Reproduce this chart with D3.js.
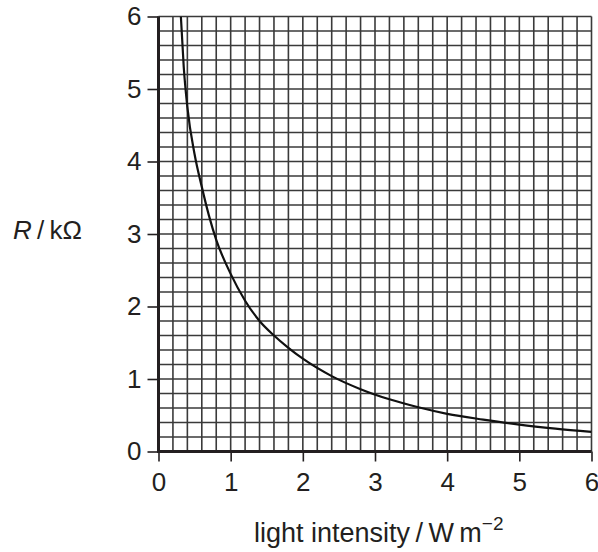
<!DOCTYPE html>
<html><head><meta charset="utf-8">
<script src="https://cdn.jsdelivr.net/npm/d3@7/dist/d3.min.js"></script>
<style>
body{margin:0;background:#fff;}
text{font-family:"Liberation Sans",Arial,sans-serif;fill:#231f20;}
</style></head>
<body>
<svg id="c" width="598" height="552"></svg>
<script>
const intensity = [0.31,0.35,0.4,0.5,0.6,0.7,0.8,1.0,1.2,1.4,1.6,1.8,2.0,2.4,2.8,3.2,3.6,4.0,4.5,5.0,5.5,6.0];
const resistance = [6.0,5.3,4.75,4.1,3.65,3.25,2.92,2.45,2.08,1.8,1.6,1.43,1.28,1.04,0.86,0.72,0.61,0.52,0.44,0.37,0.315,0.27];
const xTicks = [0,1,2,3,4,5,6];
const yTicks = [0,1,2,3,4,5,6];
const xLabel = "light intensity\u2009/\u2009W\u2009m";
const xLabelSup = "−2";

const svg = d3.select("#c");
const x = d3.scaleLinear().domain([0,6]).range([158.5,591.5]);
const y = d3.scaleLinear().domain([0,6]).range([451.5,16.5]);
const minor = d3.range(0,6.0001,0.2);

const g = svg.append("g");
g.selectAll(".vg").data(minor).join("line")
  .attr("x1",d=>x(d)).attr("x2",d=>x(d)).attr("y1",y(0)).attr("y2",y(6))
  .attr("stroke","#3a3a3a").attr("stroke-width",1.6);
g.selectAll(".hg").data(minor).join("line")
  .attr("y1",d=>y(d)).attr("y2",d=>y(d)).attr("x1",x(0)).attr("x2",x(6))
  .attr("stroke","#3a3a3a").attr("stroke-width",1.6);

// axes
const xAxis = d3.axisBottom(x).tickValues(xTicks).tickSize(10).tickPadding(6).tickFormat(d3.format("d"));
const yAxis = d3.axisLeft(y).tickValues(yTicks).tickSize(11).tickPadding(6).tickFormat(d3.format("d"));
const gx = svg.append("g").attr("transform",`translate(0,${y(0)})`).call(xAxis);
const gy = svg.append("g").attr("transform",`translate(${x(0)},0)`).call(yAxis);
[gx,gy].forEach(a=>{
  a.select(".domain").remove();
  a.selectAll(".tick line").attr("stroke","#231f20").attr("stroke-width",1.6);
  a.selectAll(".tick text").attr("font-size",26).attr("fill","#231f20")
    .style("font-family","'Liberation Sans',Arial,sans-serif");
});
gx.selectAll(".tick text").attr("dy","0.9em");
svg.append("line").attr("x1",x(0)).attr("x2",x(0)).attr("y1",y(6)).attr("y2",y(0)+1.5)
  .attr("stroke","#231f20").attr("stroke-width",3);
svg.append("line").attr("x1",x(0)-1.5).attr("x2",x(6)).attr("y1",y(0)).attr("y2",y(0))
  .attr("stroke","#231f20").attr("stroke-width",3);

// curve
svg.append("clipPath").attr("id","clip").append("rect")
  .attr("x",x(0)).attr("y",y(6)).attr("width",x(6)-x(0)).attr("height",y(0)-y(6));
const line = d3.line().x((d,i)=>x(intensity[i])).y(d=>y(d)).curve(d3.curveMonotoneX);
svg.append("path").datum(resistance).attr("d",line).attr("fill","none")
  .attr("stroke","#111").attr("stroke-width",2.2).attr("clip-path","url(#clip)");

// labels
const yl = svg.append("text").attr("x",13).attr("y",239).attr("font-size",26);
yl.append("tspan").attr("font-style","italic").text("R");
yl.append("tspan").text("\u2009/\u2009kΩ");

const xl = svg.append("text").attr("x",254).attr("y",542).attr("font-size",27);
xl.append("tspan").text(xLabel);
xl.append("tspan").attr("dy",-12).attr("font-size",19).text(xLabelSup);
</script>
</body></html>
